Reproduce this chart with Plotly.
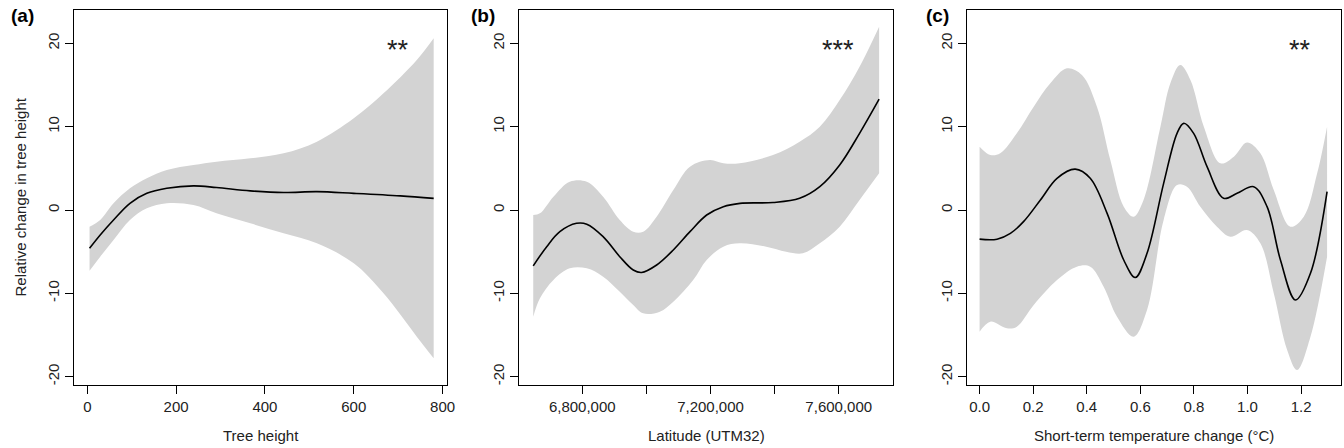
import plotly.graph_objects as go

W, H = 1344, 448

# ---------------- data ----------------
# Panel (a): tree height
a_line_x = [5, 29, 59, 96, 134, 179, 239, 291, 367, 442, 517, 600, 705, 780]
a_line_y = [-4.6, -3.0, -1.2, 0.8, 2.0, 2.6, 2.9, 2.7, 2.3, 2.1, 2.2, 2.0, 1.7, 1.4]
a_up_x = [5, 29, 59, 96, 134, 179, 239, 291, 367, 442, 517, 600, 667, 742, 780]
a_up_y = [-2.0, -1.2, 0.8, 2.6, 3.8, 4.8, 5.4, 5.8, 6.2, 6.8, 8.2, 11.0, 14.0, 18.0, 20.6]
a_lo_x = [5, 29, 59, 96, 134, 179, 239, 291, 367, 442, 517, 600, 667, 742, 780]
a_lo_y = [-7.3, -5.6, -3.6, -1.2, 0.2, 0.8, 0.6, -0.4, -1.6, -2.8, -4.0, -6.4, -10.0, -15.2, -17.8]

# Panel (b): latitude
b_line_x = [6647000, 6689000, 6730000, 6782000, 6814000, 6865000, 6917000, 6959000,
            6985000, 7032000, 7084000, 7136000, 7188000, 7240000, 7292000, 7395000,
            7478000, 7541000, 7603000, 7665000, 7726000]
b_line_y = [-6.7, -4.4, -2.6, -1.6, -1.7, -3.2, -5.6, -7.2, -7.5, -6.6, -4.8, -2.6,
            -0.6, 0.4, 0.8, 0.9, 1.4, 2.8, 5.4, 9.2, 13.3]
b_up_x = [6647000, 6668000, 6710000, 6761000, 6814000, 6865000, 6917000, 6959000,
          6990000, 7032000, 7084000, 7136000, 7198000, 7240000, 7291000, 7395000,
          7478000, 7541000, 7603000, 7665000, 7726000]
b_up_y = [-0.6, -0.4, 1.6, 3.4, 3.4, 1.6, -1.2, -2.6, -2.6, -0.8, 2.4, 5.2, 6.0,
          5.6, 5.6, 6.6, 8.2, 10.0, 13.2, 17.2, 22.0]
b_lo_x = [6647000, 6668000, 6710000, 6761000, 6814000, 6865000, 6917000, 6959000,
          6990000, 7042000, 7084000, 7146000, 7188000, 7240000, 7291000, 7374000,
          7436000, 7488000, 7541000, 7603000, 7665000, 7726000]
b_lo_y = [-12.8, -10.6, -8.4, -7.0, -7.0, -8.0, -9.8, -11.4, -12.4, -12.2, -11.0,
          -8.4, -6.0, -4.4, -4.0, -4.4, -5.0, -5.2, -4.0, -2.0, 1.2, 4.4]

# Panel (c): short-term temperature change
c_line_x = [0.0, 0.065, 0.115, 0.164, 0.227, 0.289, 0.357, 0.413, 0.476, 0.538, 0.581,
            0.625, 0.687, 0.737, 0.762, 0.799, 0.849, 0.911, 0.961, 1.023, 1.073,
            1.123, 1.179, 1.235, 1.297]
c_line_y = [-3.5, -3.5, -2.8, -1.4, 1.2, 3.8, 4.9, 3.8, -0.4, -6.0, -8.1, -5.2, 3.2,
            9.2, 10.4, 9.2, 5.2, 1.4, 2.0, 2.8, 0.4, -6.0, -10.8, -7.6, 2.2]
c_up_x = [0.0, 0.04, 0.077, 0.139, 0.202, 0.264, 0.326, 0.382, 0.438, 0.488, 0.538,
          0.575, 0.612, 0.675, 0.712, 0.749, 0.787, 0.837, 0.899, 0.949, 0.998,
          1.048, 1.098, 1.160, 1.210, 1.260, 1.297]
c_up_y = [7.6, 6.6, 6.8, 9.2, 12.4, 15.2, 17.0, 16.2, 12.4, 6.0, 0.4, -0.8, 1.2,
          10.0, 15.2, 17.4, 15.6, 10.0, 5.6, 6.4, 8.1, 6.8, 2.4, -2.0, -0.8, 4.4, 10.0]
c_lo_x = [0.0, 0.04, 0.102, 0.139, 0.202, 0.289, 0.363, 0.413, 0.463, 0.513, 0.575,
          0.625, 0.687, 0.737, 0.774, 0.824, 0.886, 0.936, 0.998, 1.048, 1.098,
          1.148, 1.185, 1.235, 1.297]
c_lo_y = [-14.6, -13.4, -14.2, -14.0, -11.4, -8.4, -6.8, -6.8, -9.2, -12.8, -15.2,
          -12.0, -1.2, 3.0, 2.8, 0.4, -2.0, -3.2, -2.4, -4.0, -10.0, -16.8, -19.2,
          -15.2, -5.6]

y_ticks = [-20, -10, 0, 10, 20]
a_ticks = [0, 200, 400, 600, 800]
b_ticks = [6800000, 7000000, 7200000, 7400000, 7600000]
b_ticktext = ["6,800,000", "", "7,200,000", "", "7,600,000"]
c_ticks = [0.0, 0.2, 0.4, 0.6, 0.8, 1.0, 1.2]
c_ticktext = ["0.0", "0.2", "0.4", "0.6", "0.8", "1.0", "1.2"]

panel_labels = ["(a)", "(b)", "(c)"]
stars = ["**", "***", "**"]
x_titles = ["Tree height", "Latitude (UTM32)", "Short-term temperature change (°C)"]
y_title = "Relative change in tree height"

# ---------------- layout geometry (pixels) ----------------
boxes = [(74, 447), (519, 893), (967, 1341)]
box_top, box_bot = 10, 385
x_ranges = [[-30, 810], [6602600, 7769300], [-0.047, 1.349]]
y_range = [-21, 24]

FONT = "Liberation Sans, Arial, sans-serif"
BAND = "#d3d3d3"

fig = go.Figure()

panels = [
    (a_line_x, a_line_y, a_up_x, a_up_y, a_lo_x, a_lo_y),
    (b_line_x, b_line_y, b_up_x, b_up_y, b_lo_x, b_lo_y),
    (c_line_x, c_line_y, c_up_x, c_up_y, c_lo_x, c_lo_y),
]

for i, (lx, ly, ux, uy, ox, oy) in enumerate(panels):
    xa = "x" if i == 0 else f"x{i+1}"
    ya = "y" if i == 0 else f"y{i+1}"
    fig.add_trace(go.Scatter(x=ox, y=oy, mode="lines",
                             line=dict(width=0, color=BAND, shape="spline", smoothing=1.0),
                             hoverinfo="skip", showlegend=False, xaxis=xa, yaxis=ya))
    fig.add_trace(go.Scatter(x=ux, y=uy, mode="lines", fill="tonexty", fillcolor=BAND,
                             line=dict(width=0, color=BAND, shape="spline", smoothing=1.0),
                             hoverinfo="skip", showlegend=False, xaxis=xa, yaxis=ya))
    fig.add_trace(go.Scatter(x=lx, y=ly, mode="lines",
                             line=dict(color="black", width=1.6, shape="spline", smoothing=1.0),
                             showlegend=False, xaxis=xa, yaxis=ya))

tick_font = dict(family=FONT, size=15, color="#222")
common_axis = dict(showline=True, linecolor="black", linewidth=1, mirror=True,
                   ticks="outside", ticklen=8, tickcolor="black", tickwidth=1,
                   showgrid=False, zeroline=False, automargin=False, tickfont=tick_font)

xticks = [(a_ticks, [str(t) for t in a_ticks]), (b_ticks, b_ticktext), (c_ticks, c_ticktext)]

layout = {}
for i in range(3):
    xk = "xaxis" if i == 0 else f"xaxis{i+1}"
    yk = "yaxis" if i == 0 else f"yaxis{i+1}"
    l, r = boxes[i]
    layout[xk] = dict(common_axis, domain=[l / W, r / W], range=x_ranges[i],
                      tickvals=xticks[i][0], ticktext=xticks[i][1],
                      anchor="y" if i == 0 else f"y{i+1}")
    layout[yk] = dict(common_axis, domain=[1 - box_bot / H, 1 - box_top / H], range=y_range,
                      tickvals=y_ticks, ticktext=[str(t) for t in y_ticks], tickangle=-90,
                      anchor="x" if i == 0 else f"x{i+1}")

fig.update_layout(**layout)

ann = []
label_x = [22, 483, 937]
star_x = [398, 838, 1300]
for i in range(3):
    l, r = boxes[i]
    ann.append(dict(text=f"<b>{panel_labels[i]}</b>", x=label_x[i] / W, y=1 - 16 / H,
                    xref="paper", yref="paper", showarrow=False, xanchor="center", yanchor="middle",
                    font=dict(family=FONT, size=19, color="black")))
    ann.append(dict(text=stars[i], x=star_x[i] / W, y=1 - 50 / H,
                    xref="paper", yref="paper", showarrow=False, xanchor="center", yanchor="middle",
                    font=dict(family=FONT, size=27, color="#222")))
    ann.append(dict(text=x_titles[i], x=(l + r) / 2 / W, y=1 - 435 / H,
                    xref="paper", yref="paper", showarrow=False, xanchor="center", yanchor="middle",
                    font=dict(family=FONT, size=15, color="#222")))
ann.append(dict(text=y_title, x=20 / W, y=1 - ((box_top + box_bot) / 2) / H, textangle=-90,
                xref="paper", yref="paper", showarrow=False, xanchor="center", yanchor="middle",
                font=dict(family=FONT, size=15, color="#222")))

fig.update_layout(width=W, height=H, margin=dict(l=0, r=0, t=0, b=0),
                  paper_bgcolor="white", plot_bgcolor="white", annotations=ann)

fig.write_html("out.html")
